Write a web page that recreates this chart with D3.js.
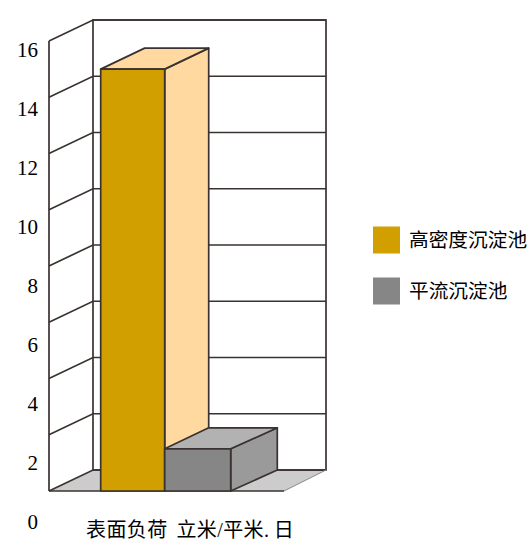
<!DOCTYPE html>
<html>
<head>
<meta charset="utf-8">
<style>
  html, body { margin: 0; padding: 0; background: #fff; }
  svg { display: block; }
  text { font-family: "Liberation Serif", "Noto Sans CJK SC", serif; fill: #000; }
</style>
<script src="https://cdn.jsdelivr.net/npm/d3@7"></script>
</head>
<body>
<div id="chart"></div>
<script>
const categories = ["高密度沉淀池", "平流沉淀池"];
const values = [15, 1.5];
const tickLabels = [0, 2, 4, 6, 8, 10, 12, 14, 16];
const axisTitle = "表面负荷  立米/平米. 日";
const frontColors = ["#d29f00", "#868686"];
const topColors = ["#ffd9a0", "#b2b2b2"];
const sideColors = ["#ffd9a0", "#9a9a9a"];

const width = 532, height = 546;
const depth = { x: 44, y: -21 };
const lineColor = "#3a3230";
const lineWidth = 1.7;

const svg = d3.select("#chart").append("svg")
    .attr("width", width)
    .attr("height", height);

const y = d3.scaleLinear().domain([0, 16]).range([491, 41]);
// the tick labels sit on a slightly wider spacing than the gridlines
const yLabels = d3.scaleLinear().domain([0, 16]).range([522, 50]);
// bar edges, front and back, by bar position
const x = d3.scaleLinear().domain([0, 1, 2]).range([100.7, 164.7, 230.7]);
const xBack = d3.scaleLinear().domain([0, 1, 2]).range([144.7, 208.7, 277.3]);
const wall = d3.scaleLinear().domain([0, 1]).range([49, 284]);

const line = d3.line();
const poly = pts => line(pts) + "Z";

// floor
svg.append("path")
    .attr("d", poly([
        [wall(0), y(0)], [wall(1), y(0)],
        [wall(1) + depth.x - 2, y(0) + depth.y], [wall(0) + depth.x, y(0) + depth.y]
    ]))
    .attr("fill", "#cccccc");

// back wall + left wall
svg.append("rect")
    .attr("x", wall(0) + depth.x)
    .attr("y", y(16) + depth.y)
    .attr("width", wall(1) - wall(0) - 2)
    .attr("height", y(0) - y(16))
    .attr("fill", "none")
    .attr("stroke", lineColor)
    .attr("stroke-width", lineWidth);

svg.append("path")
    .attr("d", line([[wall(0), y(0)], [wall(0), y(16)]]))
    .attr("stroke", lineColor)
    .attr("stroke-width", lineWidth)
    .attr("fill", "none");

// gridlines, on both walls
svg.append("g").selectAll("path")
    .data(tickLabels)
    .join("path")
    .attr("d", d => line([
        [wall(0), y(d)],
        [wall(0) + depth.x, y(d) + depth.y],
        [wall(1) + depth.x - 2, y(d) + depth.y]
    ]))
    .attr("fill", "none")
    .attr("stroke", lineColor)
    .attr("stroke-width", lineWidth);

// floor front edge, right edge
svg.append("path")
    .attr("d", line([[wall(0), y(0)], [wall(1), y(0)]]))
    .attr("stroke", lineColor)
    .attr("stroke-width", lineWidth);
svg.append("path")
    .attr("d", line([[wall(1), y(0)], [wall(1) + depth.x - 2, y(0) + depth.y]]))
    .attr("stroke", "#8a8a8a")
    .attr("stroke-width", 1);

// bars
const bars = svg.append("g").selectAll("g")
    .data(categories)
    .join("g")
    .attr("stroke", lineColor)
    .attr("stroke-width", lineWidth)
    .attr("stroke-linejoin", "round");

bars.append("path")
    .attr("d", (d, i) => poly([
        [x(i + 1), y(values[i])], [xBack(i + 1), y(values[i]) + depth.y],
        [xBack(i + 1), y(0) + depth.y], [x(i + 1), y(0)]
    ]))
    .attr("fill", (d, i) => sideColors[i]);

bars.append("path")
    .attr("d", (d, i) => poly([
        [x(i), y(values[i])], [xBack(i), y(values[i]) + depth.y],
        [xBack(i + 1), y(values[i]) + depth.y], [x(i + 1), y(values[i])]
    ]))
    .attr("fill", (d, i) => topColors[i]);

bars.append("rect")
    .attr("x", (d, i) => x(i))
    .attr("y", (d, i) => y(values[i]))
    .attr("width", (d, i) => x(i + 1) - x(i))
    .attr("height", (d, i) => y(0) - y(values[i]))
    .attr("fill", (d, i) => frontColors[i]);

// tick labels
const yAxis = svg.append("g")
    .attr("transform", "translate(38,0)")
    .call(d3.axisLeft(yLabels).tickValues(tickLabels).tickSize(0).tickPadding(0));
yAxis.select(".domain").remove();
yAxis.selectAll("text")
    .style("font-size", "21px");

svg.append("text")
    .attr("x", 86)
    .attr("y", 537)
    .attr("font-size", 20)
    .attr("letter-spacing", 0.4)
    .attr("word-spacing", -1)
    .style("white-space", "pre")
    .text(axisTitle);

// legend
const legendY = d3.scalePoint().domain(categories).range([240, 291]);
const legend = svg.append("g").selectAll("g")
    .data(categories)
    .join("g")
    .attr("transform", d => `translate(373,${legendY(d)})`);
legend.append("rect")
    .attr("x", 0)
    .attr("y", -13.5)
    .attr("width", 27)
    .attr("height", 27)
    .attr("fill", (d, i) => frontColors[i]);
legend.append("text")
    .attr("x", 36)
    .attr("y", 7)
    .attr("font-size", 19.7)
    .text(d => d);
</script>
</body>
</html>
